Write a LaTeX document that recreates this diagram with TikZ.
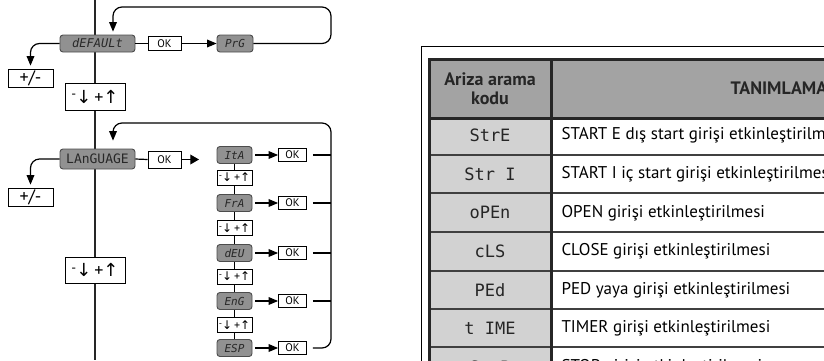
\documentclass[tikz,border=0pt]{standalone}
\usepackage{fontspec}
\setmainfont{PT Sans}
\newfontfamily\lcdfont{DejaVu Sans Mono}
\newfontfamily\symfont{DejaVu Sans}
\usetikzlibrary{arrows}
\definecolor{lcdgray}{RGB}{145,145,145}
\definecolor{lcdtext}{RGB}{40,40,40}
\definecolor{headgray}{RGB}{163,163,163}
\definecolor{codegray}{RGB}{210,210,210}
\newcommand{\keyupdn}{\raisebox{0.5ex}{\scalebox{0.75}{-}}{\symfont↓}\,+{\symfont↑}}
\tikzset{
	lcd/.style={draw=black!70, fill=lcdgray, rounded corners=3pt, line width=0.9pt, minimum height=17pt, inner sep=0pt, font=\lcdfont\itshape\fontsize{11}{11}\selectfont, text=lcdtext},
	okbox/.style={draw, fill=white, line width=0.9pt, minimum width=33pt, minimum height=14pt, inner sep=0pt, font=\fontsize{11}{11}\selectfont},
	keybox/.style={draw, fill=white, line width=0.9pt, inner sep=0pt},
	flow/.style={line width=1.2pt, rounded corners=9pt},
	codecell/.style={font=\lcdfont\fontsize{17}{17}\selectfont, text=black!85},
	desccell/.style={anchor=west, font=\fontsize{17}{17}\selectfont}
}
\begin{document}
\begin{tikzpicture}[x=1pt,y=-1pt]
	\useasboundingbox(0,0) rectangle (824,360);
	\clip(0,0) rectangle (824,360);
	\coordinate(maintop) at (95,0);
	\coordinate(mainbot) at (95,360);
	\coordinate(coltop) at (234.5,155);
	\coordinate(colbot) at (234.5,348);
	\coordinate(loopr) at (331,123);
	\coordinate(langend) at (199,159.5);
	\draw[line width=2pt, black!85](maintop) -- (mainbot);
	\draw[line width=1.2pt](coltop) -- (colbot);
	\node[lcd, minimum width=75pt, font=\lcdfont\itshape\fontsize{12}{12}\selectfont](default) at (97.5,43.5){dEFAULt};
	\node[okbox](okdef) at (164.5,43.5){OK};
	\node[lcd, minimum width=36pt](prg) at (235,43.5){PrG};
	\node[keybox, minimum width=45pt, minimum height=18pt, font=\fontsize{18}{18}\selectfont](pmdef) at (30.5,78){+/-};
	\node[keybox, minimum width=60pt, minimum height=27pt, font=\fontsize{18}{18}\selectfont](keydef) at (95,96.5){\keyupdn};
	\draw[flow](default.east) -- (okdef.west);
	\draw[flow, -triangle 45](okdef.east) -- (prg.west);
	\draw[flow, -triangle 45, shorten >=3pt](prg.east) -| (331,7) -| ([xshift=15.5pt]default.north);
	\draw[flow, -triangle 45, shorten >=3pt](default.west) -| (pmdef.north);
	\node[lcd, minimum width=75pt, minimum height=20pt, font=\lcdfont\fontsize{13}{13}\selectfont](lang) at (97.5,159){LAnGUAGE};
	\node[okbox, minimum height=17pt](oklang) at (164.5,159.5){OK};
	\node[keybox, minimum width=45pt, minimum height=18pt, font=\fontsize{18}{18}\selectfont](pmlang) at (30.5,197){+/-};
	\node[keybox, minimum width=60pt, minimum height=26pt, font=\fontsize{18}{18}\selectfont](keylang) at (95,270){\keyupdn};
	\draw[flow](lang.east) -- (oklang.west);
	\draw[line width=1.4pt, -triangle 60](oklang.east) -- (langend);
	\draw[flow, -triangle 45, shorten >=3pt](lang.west) -| (pmlang.north);
	\foreach \y [count=\i] in {177.5,228,276.5,325}
		\node[keybox, minimum width=35pt, minimum height=15pt, font=\fontsize{12}{12}\selectfont](keyitem\i) at (234.5,\y){\keyupdn};
	\foreach \name/\code/\y in {ita/ItA/155, fra/FrA/203, deu/dEU/253, eng/EnG/301, esp/ESP/348}{
		\node[lcd, minimum width=35pt](\name) at (234.5,\y){\code};
		\node[okbox, minimum width=28pt, minimum height=13pt](ok\name) at (292.5,\y){OK};
		\draw[flow, -triangle 45, shorten <=3pt](\name) -- (ok\name);
	}
	\foreach \name in {ita,fra,deu,eng}
		\draw[flow, shorten <=6pt](ok\name.east) -- (ok\name.east -| loopr);
	\draw[flow, -triangle 45, shorten <=6pt, shorten >=8pt](okesp.east) -| (loopr) -| ([xshift=15.5pt]lang.north);
	\draw[line width=0.8pt](421,370) -- (421,46.5) -- (830,46.5);
	\fill[headgray](429.5,59.5) rectangle (830,118);
	\fill[codegray](429.5,118) rectangle (551.5,370);
	\foreach \y in {155,193,232,271,309,347}
		\draw[line width=1.2pt, black!75](429.5,\y) -- (830,\y);
	\draw[line width=3pt, black!85](429.5,370) -- (429.5,59.5) -- (830,59.5);
	\draw[line width=3pt, black!85](429.5,118) -- (830,118);
	\draw[line width=2.5pt, black!85](551.5,59.5) -- (551.5,370);
	\node[align=center, font=\bfseries\fontsize{18}{19}\selectfont, text=black!85](headcode) at (490,89){Ariza arama\\kodu};
	\node[anchor=west, font=\bfseries\fontsize{18}{18}\selectfont, text=black!85](headdesc) at (727,88){TANIMLAMA};
	\foreach \code/\desc [count=\i] in {StrE/START E dış start girişi etkinleştirilmesi, Str I/START I iç start girişi etkinleştirilmesi, oPEn/OPEN girişi etkinleştirilmesi, cLS/CLOSE girişi etkinleştirilmesi, PEd/PED yaya girişi etkinleştirilmesi, t IME/TIMER girişi etkinleştirilmesi, StoP/STOP girişi etkinleştirilmesi}{
		\node[codecell](code\i) at (490,{97+38.6*\i}){\code};
		\node[desccell](desc\i) at (558,{97+38.6*\i}){\desc};
	}
\end{tikzpicture}
\end{document}
